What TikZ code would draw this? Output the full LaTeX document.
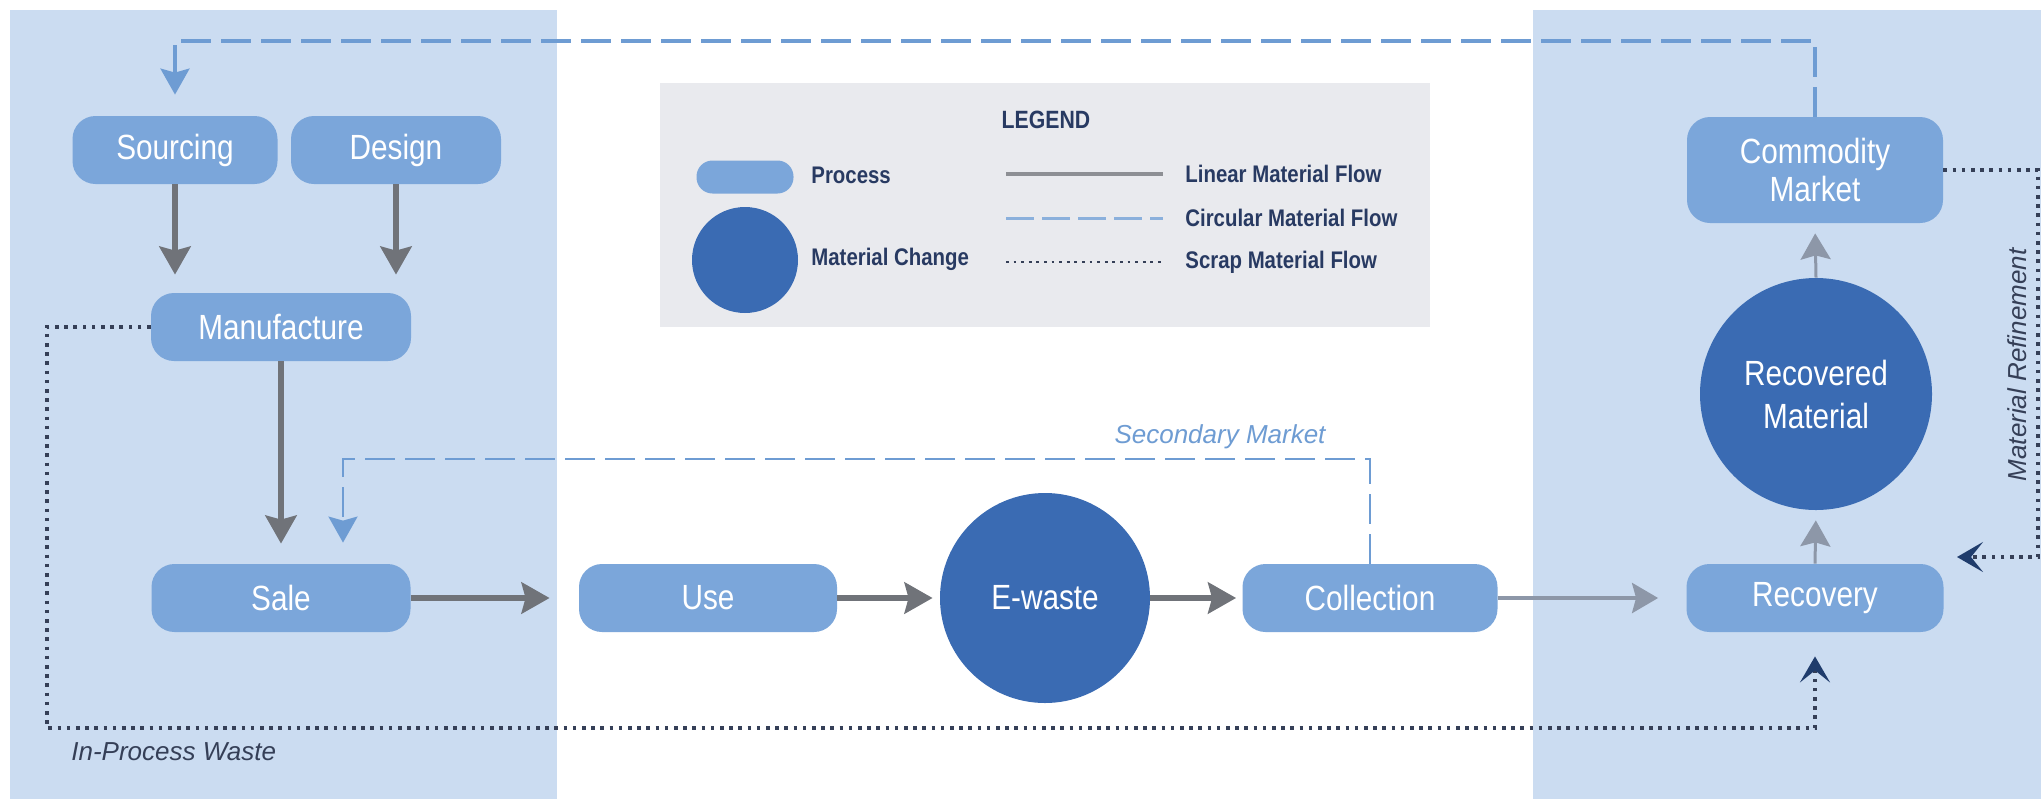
\documentclass[tikz,border=0pt]{standalone}
\usepackage{fontspec}
\setmainfont{Liberation Sans}[FakeStretch=0.85]
\newfontfamily\plainsans{Liberation Sans}
\usetikzlibrary{arrows.meta}
\definecolor{panel}{HTML}{CBDCF1}
\definecolor{pill}{HTML}{7BA6DA}
\definecolor{blob}{HTML}{3A6BB3}
\definecolor{legbg}{HTML}{E9EAEE}
\definecolor{flowgray}{HTML}{707379}
\definecolor{lightflow}{HTML}{8D97A8}
\definecolor{circflow}{HTML}{6E9CD3}
\definecolor{scrap}{HTML}{353F57}
\definecolor{navy}{HTML}{1F3C6C}
\definecolor{legtext}{HTML}{283a62}
\tikzset{
  pillbox/.style={rounded corners=11.5pt, fill=pill, text=white, minimum height=34pt,
    inner sep=0pt, font=\fontsize{17.5}{19}\selectfont, align=center},
  blobnode/.style={circle, fill=blob, text=white, inner sep=0pt,
    font=\fontsize{17.5}{21.5}\selectfont, align=center},
  linflow/.style={draw=flowgray, line width=3pt,
    -{Stealth[length=14pt,width=15.5pt,inset=2pt]}},
  liteflow/.style={draw=lightflow, line width=2pt,
    -{Stealth[length=13pt,width=15pt,inset=2pt]}},
  circflowline/.style={draw=circflow, line width=1.7pt, dash pattern=on 15pt off 5pt,
    -{Stealth[length=13pt,width=14.5pt,inset=2pt]}},
  scrapline/.style={draw=scrap, line width=1.8pt, dash pattern=on 1.8pt off 2.8pt,
    -{Stealth[length=13pt,width=15pt,inset=6pt,color=navy,fill=navy]}},
  legtxt/.style={text=legtext, font=\bfseries\fontsize{12}{14}\selectfont, anchor=west, inner sep=0pt},
  notetxt/.style={font=\plainsans\itshape\fontsize{13}{15}\selectfont, inner sep=0pt}
}
\begin{document}
\begin{tikzpicture}[x=0.5pt,y=-0.5pt]
\fill[white] (0,0) rectangle (2041,799);
\useasboundingbox (0,0) rectangle (2041,799);
% panels
\fill[panel] (10,10) rectangle (557,799);
\fill[panel] (1533,10) rectangle (2041,799);
% legend
\fill[legbg] (660,83) rectangle (1430,327);
\node[text=legtext, font=\bfseries\fontsize{12.5}{14}\selectfont] (legtitle) at (1046,120) {LEGEND};
\node[pillbox, minimum width=48.5pt, minimum height=16.5pt, rounded corners=8pt] (legpill) at (745,177) {};
\node[circle, fill=blob, minimum size=53pt, inner sep=0pt] (legblob) at (745,260) {};
\node[legtxt] (legproc) at (811,175) {Process};
\node[legtxt] (legchange) at (811,259) {Material Change};
\coordinate (la1) at (1006,174); \coordinate (lb1) at (1163,174);
\coordinate (la2) at (1006,218); \coordinate (lb2) at (1163,218);
\coordinate (la3) at (1006,262); \coordinate (lb3) at (1163,262);
\draw[draw=flowgray!80, line width=2pt] (la1) -- (lb1);
\draw[draw=circflow!80, line width=1.5pt, dash pattern=on 14pt off 4pt] (la2) -- (lb2);
\draw[draw=scrap, line width=1.4pt, dash pattern=on 1.4pt off 2.4pt] (la3) -- (lb3);
\node[legtxt] (leglin) at (1185,174) {Linear Material Flow};
\node[legtxt] (legcirc) at (1185,218) {Circular Material Flow};
\node[legtxt] (legscrap) at (1185,262) {Scrap Material Flow};
% process nodes
\node[pillbox, minimum width=102.5pt] (sourcing) at (175,150) {Sourcing};
\node[pillbox, minimum width=105pt] (design) at (396,150) {Design};
\node[pillbox, minimum width=130pt] (manuf) at (281,327) {Manufacture};
\node[pillbox, minimum width=129.5pt] (sale) at (281,598) {Sale};
\node[pillbox, minimum width=129pt] (use) at (708,598) {Use};
\node[blobnode, minimum size=105pt] (ewaste) at (1045,598) {E-waste};
\node[pillbox, minimum width=127.5pt] (collect) at (1370,598) {Collection};
\node[pillbox, minimum width=128.5pt] (recovery) at (1815,598) {Recovery};
\node[blobnode, minimum size=116pt] (recmat) at (1816,394) {Recovered\\Material};
\node[pillbox, minimum width=128pt, minimum height=53pt] (commod) at (1815,170) {Commodity\\Market};
% linear flows
\draw[linflow, shorten >=9pt] (sourcing.south) -- (sourcing.south |- manuf.north);
\draw[linflow, shorten >=9pt] (design.south) -- (design.south |- manuf.north);
\draw[linflow, shorten >=10pt] (manuf.south) -- (sale.north);
\draw[linflow, shorten >=14.5pt] (sale.east) -- (use.west);
\draw[linflow, shorten >=3.5pt] (use.east) -- (ewaste.west);
\draw[linflow, shorten >=3pt] (ewaste.east) -- (collect.west);
\draw[liteflow, shorten >=14pt] (collect.east) -- (recovery.west);
\draw[liteflow, line width=1.5pt, shorten >=5pt] (recovery.north) -- (recmat.south);
\draw[liteflow, line width=1.5pt, shorten >=5pt] (recmat.north) -- (commod.south);
% circular flows
\coordinate (topbend) at (175,41);
\draw[circflowline, shorten >=10.5pt] (commod.north) |- (topbend) -- (sourcing.north);
\coordinate (secbend) at (343,459);
\draw[circflowline, line width=1.3pt, shorten >=10.5pt] (collect.north) |- (secbend) -- (secbend |- sale.north);
\node[notetxt, text=circflow] (seclabel) at (1220,437) {Secondary Market};
% scrap flows
\coordinate (wastecorner) at (47,728);
\draw[scrapline, shorten >=12pt] (manuf.west) -| (wastecorner) -| (recovery.south);
\node[notetxt, text=scrap, anchor=west] (wastelabel) at (71,752) {In-Process Waste};
\coordinate (refcorner) at (2038,557);
\coordinate (refend) at (1957,557);
\draw[scrapline] (commod.east) -| (refcorner) -- (refend);
\node[notetxt, text=scrap, rotate=90] (reflabel) at (2017,365) {Material Refinement};
\end{tikzpicture}
\end{document}
